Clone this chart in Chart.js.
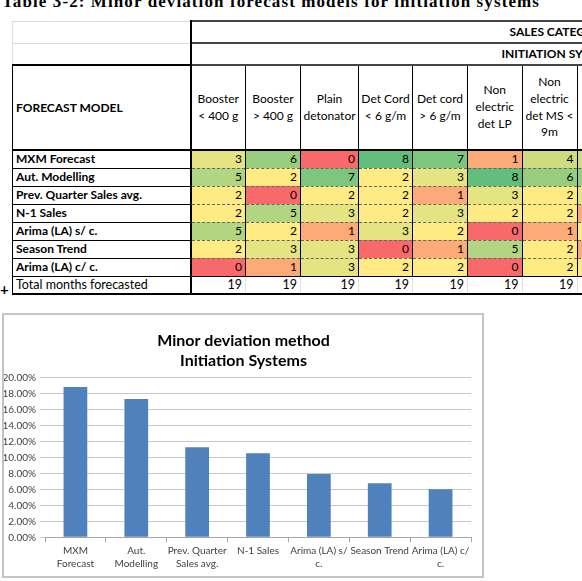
<!DOCTYPE html>
<html>
<head>
<meta charset="utf-8">
<title>Minor deviation method - Initiation Systems</title>
<script src="https://cdn.jsdelivr.net/npm/chart.js@4.4.0/dist/chart.umd.min.js"></script>
<style>
    html, body {
        margin: 0;
        padding: 0;
        background: #fff;
    }
    body {
        position: relative;
        width: 582px;
        height: 581px;
        overflow: hidden;
        font-family: Lato, "Open Sans", sans-serif;
    }
    #caption {
        position: absolute;
        left: 2px;
        top: -7px;
        font-family: "Liberation Serif", "DejaVu Serif", serif;
        font-weight: bold;
        font-size: 17px;
        line-height: 17px;
        white-space: nowrap;
        color: #000;
    }
    #sheet {
        position: absolute;
        left: 12px;
        top: 20px;
        width: 619.5px;
        border-collapse: collapse;
        table-layout: fixed;
        font-size: 12px;
        color: #000;
    }
    #sheet td {
        padding: 0 3px;
        white-space: nowrap;
        overflow: visible;
        line-height: 16px;
    }
    #sheet td.lab { font-weight: bold; text-align: left; border: 1px solid #000; }
    #sheet td.num { text-align: right; border-left: 1px solid #000; border-right: 1px solid #000;
        border-top: 1px dashed #666; border-bottom: 1px dashed #666; }
    #sheet td.blank { border: 1px solid #dcdcdc; border-right: 2px solid #000; }
    #sheet td.grp { font-weight: bold; border-top: 2px solid #444; border-bottom: 2px solid #444; }
    #sheet td.head { text-align: center; vertical-align: middle; padding: 0; line-height: 16.8px;
        border: 1px solid #000; border-top: 2px solid #000; border-bottom: 2px solid #000; }
    #sheet td.tot { text-align: right; font-size: 12.5px; border-left: 1px solid #e0e0e0; border-right: 1px solid #e0e0e0;
        border-top: 1px solid #000; border-bottom: 2px solid #000; }
    #sheet .first { border-left: 2px solid #000 !important; }
    #cursor {
        position: absolute;
        left: 0;
        top: 280px;
        font-size: 15px;
        font-weight: bold;
    }
    #chartBox {
        position: absolute;
        left: 2px;
        top: 313px;
        width: 478px;
        height: 261px;
        border: 2px solid #c4c4c4;
        background: #fff;
    }
</style>
</head>
<body>
<div id="caption"><span id="captionText">Table 3-2: Minor deviation forecast models for initiation systems</span></div>
<table id="sheet"></table>
<div id="cursor">+</div>
<div id="chartBox"><canvas id="bar-chart" width="478" height="261"></canvas></div>

<script>
    "use strict";

    // Table data
    var productCols = ["Booster\n< 400 g", "Booster\n> 400 g", "Plain\ndetonator", "Det Cord\n< 6 g/m",
        "Det cord\n> 6 g/m", "Non\nelectric\ndet LP", "Non\nelectric\ndet MS <\n9m", "Non\nelectric"];
    var forecastModels = ["MXM Forecast", "Aut. Modelling", "Prev. Quarter Sales avg.", "N-1 Sales",
        "Arima (LA) s/ c.", "Season Trend", "Arima (LA) c/ c."];
    var mxmRow = [3, 6, 0, 8, 7, 1, 4, 4];
    var autRow = [5, 2, 7, 2, 3, 8, 6, 6];
    var prevQuarterRow = [2, 0, 2, 2, 1, 3, 2, 3];
    var n1Row = [2, 5, 3, 2, 3, 2, 2, 1];
    var arimaScRow = [5, 2, 1, 3, 2, 0, 1, 2];
    var seasonRow = [2, 3, 3, 0, 1, 5, 2, 1];
    var arimaCcRow = [0, 1, 3, 2, 2, 0, 2, 2];
    var totalMonths = [19, 19, 19, 19, 19, 19, 19, 19];

    // Chart data
    var chartTitle = ['Minor deviation method', 'Initiation Systems'];
    var methodLabels = [["MXM", "Forecast"], ["Aut.", "Modelling"], ["Prev. Quarter", "Sales avg."], "N-1 Sales",
        ["Arima (LA) s/", "c."], "Season Trend", ["Arima (LA) c/", "c."]];
    var minorDevShare = [0.188, 0.173, 0.1125, 0.105, 0.079, 0.0675, 0.06];
    var yTicks = [0, 0.02, 0.04, 0.06, 0.08, 0.10, 0.12, 0.14, 0.16, 0.18, 0.20];


    // Caption spacing
    var cap = document.getElementById('captionText');
    var capW = cap.getBoundingClientRect().width;
    cap.style.letterSpacing = ((538 - capW) / cap.textContent.length) + 'px';


    // Excel 3 colour scale (red - yellow - green)
    var rows = [mxmRow, autRow, prevQuarterRow, n1Row, arimaScRow, seasonRow, arimaCcRow];
    var all = [].concat.apply([], rows).sort(function (a, b) { return a - b; });
    var lo = all[0], hi = all[all.length - 1];
    var pos = (all.length - 1) * 0.5;
    var mid = all[Math.floor(pos)] + (all[Math.ceil(pos)] - all[Math.floor(pos)]) * (pos - Math.floor(pos));
    var red = [248, 105, 107], yellow = [255, 235, 132], green = [99, 190, 123];

    function mix(a, b, t) {
        return 'rgb(' + a.map(function (c, i) { return Math.round(c + (b[i] - c) * t); }).join(',') + ')';
    }
    function scaleColor(v) {
        if (v <= mid) return mix(red, yellow, mid === lo ? 1 : (v - lo) / (mid - lo));
        return mix(yellow, green, (v - mid) / (hi - mid));
    }


    // Build table
    var colWidths = [178, 55, 55, 58, 54, 55, 54.5, 55, 55];
    var html = '<colgroup>';
    colWidths.forEach(function (w) { html += '<col style="width:' + w + 'px">'; });
    html += '</colgroup>';

    html += '<tr style="height:22px"><td class="blank"></td>' +
        '<td class="grp" colspan="8" style="padding-left:318px">SALES CATEGORIES</td></tr>';
    html += '<tr style="height:22px"><td class="blank"></td>' +
        '<td class="grp" colspan="8" style="padding-left:310px">INITIATION SYSTEMS</td></tr>';

    html += '<tr style="height:85px"><td class="lab" style="border-top:2px solid #000;border-bottom:2px solid #000">FORECAST MODEL</td>';
    productCols.forEach(function (p, i) {
        html += '<td class="head' + (i === 0 ? ' first' : '') + '">' + p.replace(/</g, '&lt;').replace(/>/g, '&gt;').replace(/\n/g, '<br>') + '</td>';
    });
    html += '</tr>';

    rows.forEach(function (r, k) {
        html += '<tr style="height:18px"><td class="lab">' + forecastModels[k] + '</td>';
        r.forEach(function (v, i) {
            html += '<td class="num' + (i === 0 ? ' first' : '') + '" style="background:' + scaleColor(v) + '">' + v + '</td>';
        });
        html += '</tr>';
    });

    html += '<tr style="height:18px"><td class="lab" style="font-weight:normal;font-size:12.5px;border-bottom:2px solid #000">Total months forecasted</td>';
    totalMonths.forEach(function (v, i) {
        html += '<td class="tot' + (i === 0 ? ' first' : '') + '">' + v + '</td>';
    });
    html += '</tr>';
    document.getElementById('sheet').innerHTML = html;


    // Title centred on the whole chart box (like Excel), not on the plot
    var boxTitle = {
        id: 'boxTitle',
        afterDraw: function (chart) {
            var c = chart.ctx;
            c.save();
            c.fillStyle = '#000';
            c.font = 'bold 16px Lato';
            c.textAlign = 'center';
            c.textBaseline = 'middle';
            chartTitle.forEach(function (t, i) {
                c.fillText(t, chart.width / 2 + 0.5, 25.4 + i * 20.8);
            });
            c.restore();
        }
    };


    // Bar Chart
    var ctx = document.getElementById('bar-chart').getContext('2d');
    var myChart = new Chart(ctx, {
        type: 'bar',
        data: {
            labels: methodLabels,
            datasets: [{
                data: minorDevShare,
                backgroundColor: '#4F81BD',
                barPercentage: 0.39,
                categoryPercentage: 1
            }]
        },
        options: {
            responsive: false,
            animation: false,
            layout: {
                padding: { left: 0, right: 11, top: 62.3, bottom: 0 }
            },
            plugins: {
                legend: { display: false },
                tooltip: { enabled: false },
                title: { display: false }
            },
            scales: {
                x: {
                    grid: { drawOnChartArea: false, tickLength: 5, color: '#a6a6a6' },
                    border: { color: '#a6a6a6' },
                    ticks: {
                        color: '#404040',
                        font: { family: 'Lato', size: 10, lineHeight: 1.33 },
                        padding: 1.5,
                        maxRotation: 0,
                        autoSkip: false
                    },
                    afterFit: function (s) { s.height = 38.7; }
                },
                y: {
                    min: 0,
                    max: 0.2,
                    afterBuildTicks: function (s) {
                        s.ticks = yTicks.map(function (v) { return { value: v }; });
                    },
                    ticks: {
                        color: '#404040',
                        font: { family: 'Lato', size: 10 },
                        padding: 4,
                        callback: function (v) { return (v * 100).toFixed(2) + '%'; }
                    },
                    grid: { color: '#c8c8c8', tickLength: 5 },
                    border: { display: false },
                    afterFit: function (s) { s.width = 41; }
                }
            }
        },
        plugins: [boxTitle]
    });
</script>
</body>
</html>
